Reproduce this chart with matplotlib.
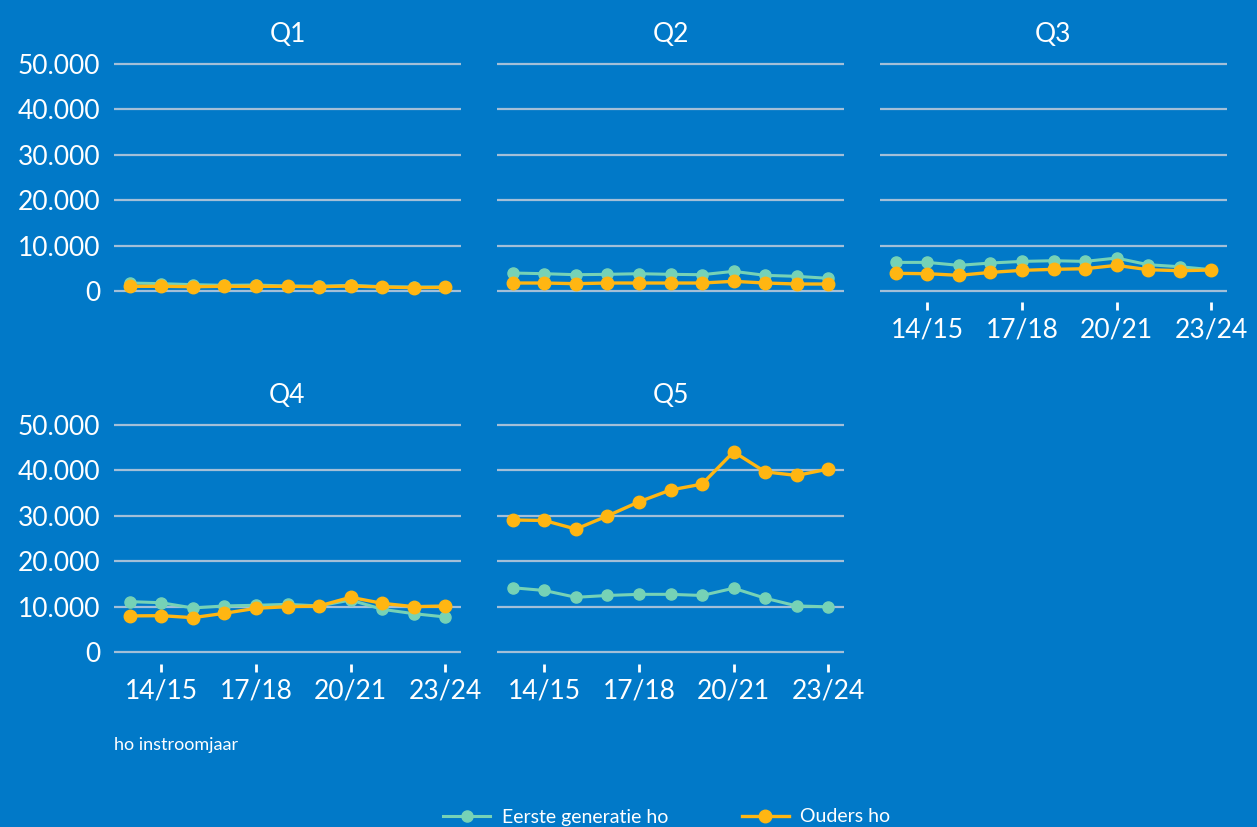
import matplotlib
matplotlib.use("Agg")
import matplotlib.pyplot as plt
from matplotlib.ticker import FuncFormatter

years = ["13/14", "14/15", "15/16", "16/17", "17/18", "18/19", "19/20",
         "20/21", "21/22", "22/23", "23/24"]
shown_ticks = ["14/15", "17/18", "20/21", "23/24"]
panels = ["Q1", "Q2", "Q3", "Q4", "Q5"]

eerste_q1 = [1760, 1610, 1400, 1250, 1320, 1100, 1030, 1250, 950, 880, 880]
ouders_q1 = [1030, 1030, 950, 1030, 1030, 1030, 950, 1100, 880, 730, 800]
eerste_q2 = [3960, 3810, 3590, 3670, 3810, 3670, 3590, 4330, 3450, 3230, 2790]
ouders_q2 = [1760, 1760, 1610, 1760, 1760, 1760, 1760, 2130, 1760, 1540, 1540]
eerste_q3 = [6300, 6300, 5650, 6160, 6520, 6670, 6520, 7260, 5790, 5350, 4700]
ouders_q3 = [3890, 3810, 3450, 4100, 4550, 4770, 4910, 5650, 4690, 4470, 4620]
eerste_q4 = [11150, 10900, 9750, 10200, 10340, 10550, 10200, 11500, 9460, 8500, 7770]
ouders_q4 = [8000, 8060, 7620, 8580, 9680, 10040, 10190, 12100, 10780, 10040, 10190]
eerste_q5 = [14200, 13600, 12100, 12500, 12750, 12750, 12500, 14100, 11900, 10200, 10000]
ouders_q5 = [29100, 29000, 27100, 30000, 33100, 35700, 37000, 44100, 39700, 38900, 40300]

eerste = [eerste_q1, eerste_q2, eerste_q3, eerste_q4, eerste_q5]
ouders = [ouders_q1, ouders_q2, ouders_q3, ouders_q4, ouders_q5]
yticks = [0, 10000, 20000, 30000, 40000, 50000]

BG = "#0179C8"
TEAL = "#76D2B6"
ORANGE = "#FFB612"
GRID = "#A3BFD8"

plt.rcParams["font.family"] = ["Lato", "DejaVu Sans"]

W, H = 1257, 827
fig = plt.figure(figsize=(W / 100, H / 100), dpi=100, facecolor=BG)

# panel pixel layout (left, right, y of 0, y of 50000)
layout = [
    (114, 461, 291, 64),
    (497, 844, 291, 64),
    (880, 1227, 291, 64),
    (114, 461, 652.3, 425),
    (497, 844, 652.3, 425),
]
ylo, yhi = -2500, 52500
xpos = list(range(len(years)))

def fmt(v, _):
    return f"{int(v):,}".replace(",", ".")

for i, name in enumerate(panels):
    l, r, y0, y50 = layout[i]
    ppu = (y0 - y50) / 50000.0
    top = y50 - (yhi - 50000) * ppu
    bot = y0 + (0 - ylo) * ppu
    ax = fig.add_axes([l / W, 1 - bot / H, (r - l) / W, (bot - top) / H])
    ax.set_facecolor(BG)
    ax.set_xlim(-0.5, len(years) - 0.5)
    ax.set_ylim(ylo, yhi)
    for s in ax.spines.values():
        s.set_visible(False)
    ax.set_yticks(yticks)
    ax.yaxis.grid(True, color=GRID, linewidth=1.6)
    ax.set_axisbelow(True)
    ax.tick_params(axis="y", length=0, pad=10, labelsize=19, labelcolor="white")
    if i in (0, 3):
        ax.yaxis.set_major_formatter(FuncFormatter(fmt))
    else:
        ax.set_yticklabels([])
    ticks = [years.index(t) for t in shown_ticks]
    ax.set_xticks(ticks)
    if i in (2, 3, 4):
        ax.set_xticklabels(shown_ticks)
        ax.tick_params(axis="x", length=6, width=2, color="white", pad=5,
                       labelsize=19, labelcolor="white")
    else:
        ax.set_xticklabels([])
        ax.tick_params(axis="x", length=0)
    ax.plot(xpos, eerste[i], color=TEAL, linewidth=2.2, marker="o",
            markersize=8, label="Eerste generatie ho", zorder=3)
    ax.plot(xpos, ouders[i], color=ORANGE, linewidth=2.4, marker="o",
            markersize=9, label="Ouders ho", zorder=4)
    ax.set_title(name, color="white", fontsize=19, pad=8)
    if i == 0:
        handles, labels = ax.get_legend_handles_labels()

fig.text(114 / W, 1 - 745 / H, "ho instroomjaar", color="white", fontsize=13,
         ha="left", va="center")

leg = fig.legend(handles, labels, loc="center", bbox_to_anchor=(667 / W, 1 - 817 / H),
                 ncol=2, frameon=False, fontsize=14, handlelength=2.4,
                 handletextpad=0.6, columnspacing=3.8, labelcolor="white")

fig.savefig("out.png", dpi=100, facecolor=BG)
